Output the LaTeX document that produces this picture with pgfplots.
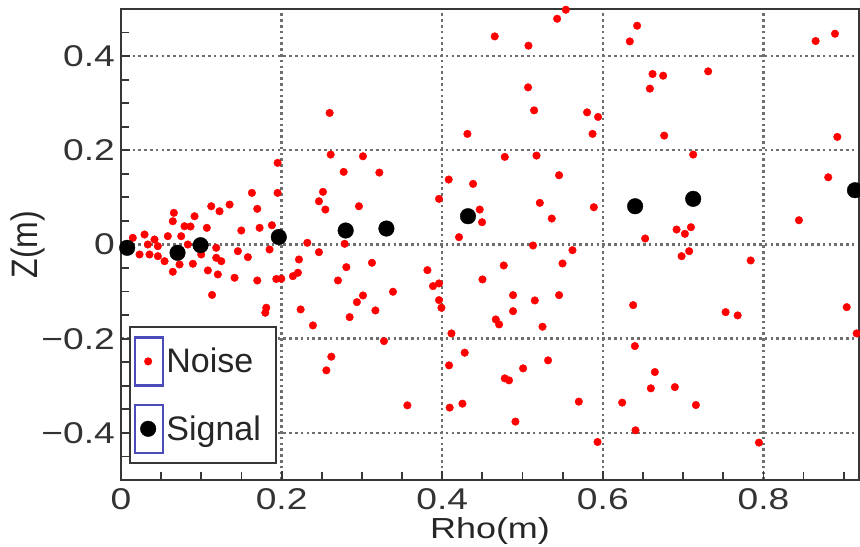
\documentclass[border=0pt]{standalone}
\usepackage{fontspec}
\setmainfont{Liberation Sans}[FakeStretch=1.24]
\newfontfamily\plainfont{Liberation Sans}
\usepackage{graphicx}
\usepackage{pgfplots}
\usepackage{pgfplotstable}
\pgfplotsset{compat=1.18}
\definecolor{legblue}{RGB}{75,75,185}
\definecolor{axgray}{RGB}{55,55,55}
\definecolor{gridgray}{RGB}{110,110,110}

\pgfplotstableread{
x y
0.5539 0.4984
0.5431 0.4793
0.4654 0.4418
0.5074 0.4221
0.5069 0.3336
0.5144 0.2848
0.2598 0.2793
0.4314 0.2348
0.2611 0.1909
0.3013 0.1873
0.4779 0.1860
0.5174 0.1888
0.5455 0.1470
0.2773 0.1542
0.3217 0.1527
0.4081 0.1379
0.4384 0.1287
0.2515 0.1118
0.2465 0.0918
0.2545 0.0742
0.2963 0.0812
0.3960 0.0969
0.5215 0.0884
0.4467 0.0742
0.4496 0.0473
0.5364 0.0551
0.4209 0.0155
0.2320 0.0036
0.2785 0.0015
0.5131 -0.0021
0.5622 -0.0121
0.6427 0.4645
0.6336 0.4312
0.8650 0.4320
0.8891 0.4475
0.6619 0.3620
0.6751 0.3584
0.7312 0.3676
0.6586 0.3309
0.5804 0.2806
0.5941 0.2708
0.5872 0.2348
0.6764 0.2312
0.8920 0.2284
0.7125 0.1909
0.8807 0.1427
0.5888 0.0791
0.8442 0.0515
0.6918 0.0318
0.7097 0.0367
0.7022 0.0227
0.6527 0.0127
0.1950 0.1733
0.1630 0.1096
0.1950 0.1096
0.1124 0.0812
0.1352 0.0848
0.1227 0.0706
0.1697 0.0757
0.0658 0.0672
0.0916 0.0600
0.0645 0.0494
0.0791 0.0388
0.1069 0.0354
0.1498 0.0297
0.1726 0.0354
0.1879 0.0409
0.2465 -0.0163
0.2216 -0.0318
0.2806 -0.0481
0.3125 -0.0388
0.3816 -0.0545
0.4766 -0.0445
0.5498 -0.0403
0.1996 -0.0727
0.2141 -0.0672
0.2203 -0.0600
0.2702 -0.0764
0.4501 -0.0742
0.3885 -0.0884
0.3960 -0.0827
0.3387 -0.1003
0.3013 -0.1082
0.2938 -0.1224
0.4882 -0.1075
0.5153 -0.1188
0.5455 -0.1075
0.3960 -0.1181
0.3990 -0.1343
0.2237 -0.1379
0.3168 -0.1400
0.4882 -0.1415
0.2847 -0.1542
0.4667 -0.1591
0.4708 -0.1697
0.2390 -0.1718
0.5249 -0.1746
0.4115 -0.1888
0.3275 -0.2051
0.4280 -0.2297
0.2619 -0.2382
0.4085 -0.2566
0.5318 -0.2460
0.2557 -0.2672
0.5007 -0.2630
0.4779 -0.2842
0.4832 -0.2884
0.3566 -0.3415
0.4093 -0.3463
0.4252 -0.3379
0.5701 -0.3336
0.4912 -0.3760
0.7075 -0.0142
0.6981 -0.0248
0.7841 -0.0339
0.6378 -0.1287
0.7529 -0.1436
0.7679 -0.1506
0.9037 -0.1330
0.9161 -0.1888
0.6399 -0.2157
0.6648 -0.2708
0.6598 -0.3054
0.6897 -0.3027
0.6241 -0.3357
0.7159 -0.3408
0.6407 -0.3945
0.5934 -0.4193
0.7944 -0.4206
0.0866 0.0382
0.0147 0.0142
0.0293 0.0212
0.0417 0.0106
0.0583 0.0176
0.0750 0.0176
0.0334 0.0000
0.0459 -0.0036
0.0231 -0.0212
0.0355 -0.0212
0.0459 -0.0248
0.0542 -0.0354
0.0729 -0.0424
0.0895 -0.0409
0.0645 -0.0579
0.0999 -0.0212
0.1082 -0.0551
0.1134 -0.1071
0.0832 0.0000
0.1186 -0.0070
0.1186 -0.0282
0.1249 -0.0354
0.1455 -0.0142
0.1580 -0.0269
0.1850 -0.0106
0.1206 -0.0636
0.1414 -0.0706
0.1697 -0.0764
0.1934 -0.0732
0.1809 -0.1343
0.1797 -0.1449
}\noisedata

\pgfplotstableread{
x y
0.0077 -0.0070
0.0704 -0.0176
0.0991 -0.0015
0.1965 0.0159
0.2798 0.0297
0.3305 0.0339
0.4321 0.0600
0.6402 0.0812
0.7125 0.0969
0.9140 0.1152
}\signaldata

\begin{document}
\begin{tikzpicture}
\begin{axis}[
  scale only axis, width=738pt, height=471pt,
  xmin=0, xmax=0.919, ymin=-0.5, ymax=0.5,
  xtick={0,0.2,0.4,0.6,0.8}, xticklabels={0,0.2,0.4,0.6,0.8},
  ytick={-0.4,-0.2,0,0.2,0.4}, yticklabels={−0.4,−0.2,0,0.2,0.4},
  minor xtick={0.05,0.1,0.15,0.25,0.3,0.35,0.45,0.5,0.55,0.65,0.7,0.75,0.85,0.9},
  minor ytick={-0.45,-0.35,-0.3,-0.25,-0.15,-0.1,-0.05,0.05,0.1,0.15,0.25,0.3,0.35,0.45},
  tick pos=left, tick align=inside,
  major tick length=9pt, minor tick length=8pt,
  tick style={axgray, line width=1.8pt},
  minor tick style={axgray, line width=1.8pt},
  xmajorgrids, ymajorgrids,
  major grid style={gridgray, line width=2.4pt, dash pattern=on 2.6pt off 3.2pt},
  axis line style={axgray, line width=2.8pt},
  tick label style={font=\fontsize{30}{36}\selectfont, text=black!80},
  xticklabel style={anchor=base, yshift=-29.5pt, inner sep=0pt},
  yticklabel style={anchor=east, inner sep=0pt, xshift=-6pt},
  xlabel={Rho(m)},
  xlabel style={font=\fontsize{29}{34}\selectfont, text=black!85, at={(axis description cs:0.5,-0.1242)}, anchor=base},
  ylabel={\scalebox{1}[1.15]{Z(m)}},
  ylabel style={font=\plainfont\fontsize{32}{38}\selectfont, text=black!85, at={(axis description cs:-0.126,0.5)}, anchor=center},
  legend cell align=left,
  legend style={at={(axis description cs:0.0108,0.034)}, anchor=south west,
    draw=axgray, line width=2pt, fill=white,
    font=\plainfont\fontsize{34}{40}\selectfont, text=black!85,
    inner xsep=4pt, inner ysep=9pt, row sep=17pt,
    nodes={inner sep=2pt},
    /tikz/every even column/.append style={column sep=0pt}},
  legend image code/.code={
    \draw[legblue, line width=2.4pt, fill=none] (0pt,-24pt) rectangle (28pt,24pt);
    \draw plot[only marks] coordinates {(13pt,0pt)};
  },
]
\addplot[only marks, mark=*, color=red, mark size=3.8pt, mark options={line width=0.4pt}] table {\noisedata};
\addlegendentry{\makebox[104pt][l]{Noise}}
\addplot[only marks, mark=*, color=black, mark size=7.8pt, mark options={line width=0.4pt}] table {\signaldata};
\addlegendentry{\makebox[104pt][l]{Signal}}
\end{axis}
\pgfresetboundingbox
\useasboundingbox ([xshift=-121pt,yshift=-67pt]current axis.south west) rectangle ([xshift=1pt,yshift=9pt]current axis.north east);
\end{tikzpicture}
\end{document}
